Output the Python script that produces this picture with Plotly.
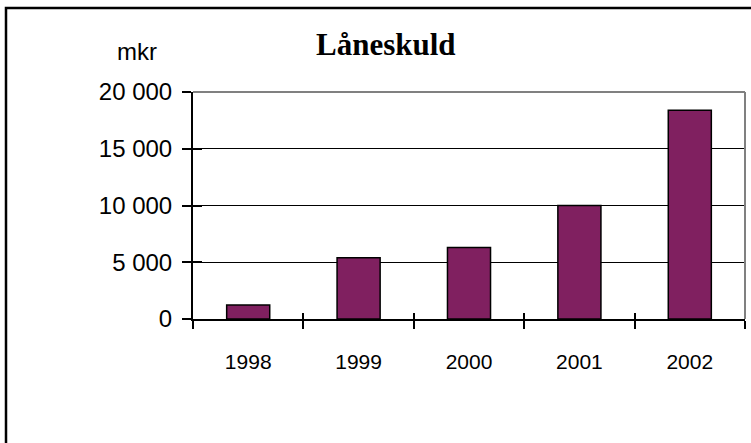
import plotly.graph_objects as go

years = ["1998", "1999", "2000", "2001", "2002"]
values = [1230, 5400, 6300, 10000, 18400]
y_ticks = [0, 5000, 10000, 15000, 20000]

W, H = 751, 443
L, R, T, B = 193, 6, 92, 124
PW, PH = W - L - R, H - T - B


def px(x):
    return (x - L) / PW


def py(y):
    return (H - B - y) / PH


BAR = "#802060"
FONT = "Liberation Sans, Arial, sans-serif"

fig = go.Figure()
fig.add_trace(go.Bar(
    x=years, y=values,
    marker=dict(color=BAR, line=dict(color="black", width=1.5)),
    width=0.39, showlegend=False, hoverinfo="x+y",
))
# invisible companion trace so the overlaid axes (inner tick halves) are drawn
fig.add_trace(go.Scatter(
    x=years, y=values, xaxis="x2", yaxis="y2", mode="markers",
    marker=dict(opacity=0), hoverinfo="skip", showlegend=False,
))

fig.update_layout(
    width=W, height=H,
    margin=dict(l=L, r=R, t=T, b=B, pad=0),
    paper_bgcolor="white", plot_bgcolor="white",
    separators=", ",
    font=dict(family=FONT, size=21, color="black"),
    xaxis=dict(
        type="category", tickson="boundaries", ticks="outside", ticklen=8,
        tickwidth=1.5, tickcolor="black", showline=True, linecolor="black",
        linewidth=2, showgrid=False, ticklabelstandoff=23,
        tickfont=dict(family=FONT, size=21),
    ),
    yaxis=dict(
        range=[0, 20000], tickvals=y_ticks, tickformat=",d", ticks="outside",
        ticklen=9, tickwidth=1.5, tickcolor="black", showline=True,
        linecolor="black", linewidth=2, showgrid=True, gridcolor="black",
        gridwidth=1, zeroline=False, ticklabelstandoff=5,
        tickfont=dict(family=FONT, size=24),
    ),
    xaxis2=dict(
        type="category", overlaying="x", anchor="y2", categoryarray=years,
        range=[-0.5, 4.5], tickson="boundaries", ticks="inside", ticklen=6,
        tickwidth=1.5, tickcolor="black", showticklabels=False,
        showgrid=False, showline=False, side="bottom",
    ),
    yaxis2=dict(
        overlaying="y", anchor="x2", range=[0, 20000], tickvals=y_ticks,
        ticks="inside", ticklen=9, tickwidth=1.5, tickcolor="black",
        showticklabels=False, showgrid=False, showline=False, zeroline=False,
        side="left",
    ),
    shapes=[
        dict(type="line", xref="paper", yref="paper", x0=0, x1=1, y0=1, y1=1,
             line=dict(color="#808080", width=2)),
        dict(type="line", xref="paper", yref="paper", x0=1, x1=1, y0=0, y1=1,
             line=dict(color="#808080", width=2)),
        dict(type="path", xref="paper", yref="paper",
             path=f"M {px(6)} {py(H + 10)} L {px(6)} {py(8)} L {px(W + 10)} {py(8)}",
             line=dict(color="black", width=2.5)),
    ],
    annotations=[
        dict(text="<b>Låneskuld</b>", xref="paper", yref="paper",
             x=px(386), y=py(45), xanchor="center", yanchor="middle",
             showarrow=False,
             font=dict(family="Liberation Serif, Times New Roman, serif",
                       size=31, color="black")),
        dict(text="mkr", xref="paper", yref="paper",
             x=px(137), y=py(52), xanchor="center", yanchor="middle",
             showarrow=False, font=dict(family=FONT, size=24, color="black")),
    ],
)

fig.write_html(
    "out.html",
    config={"displayModeBar": False},
    post_script="document.body.style.margin='0';document.body.style.padding='0';",
)
